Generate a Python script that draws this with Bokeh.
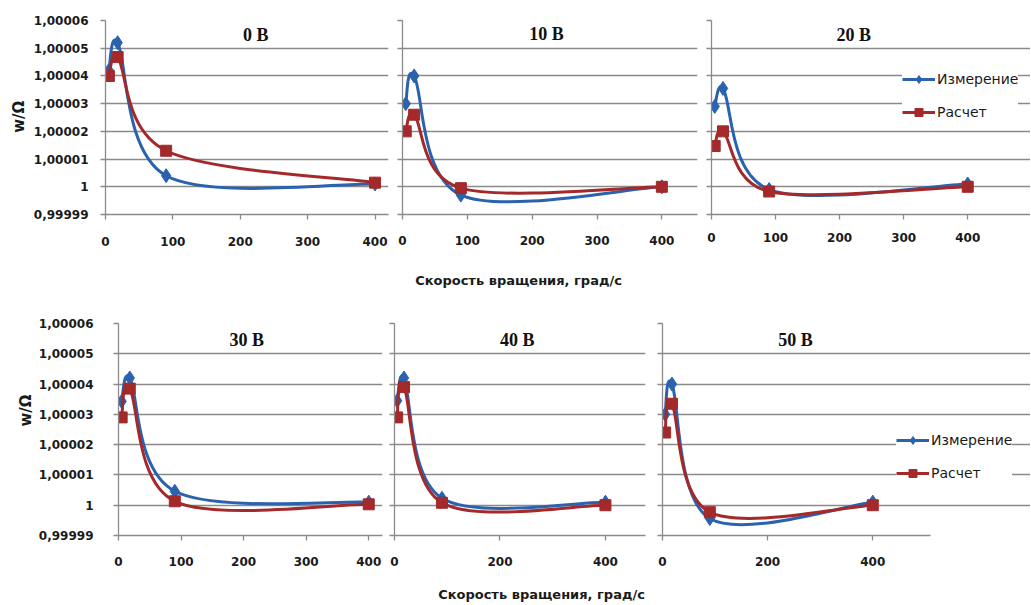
import math
from bokeh.plotting import figure
from bokeh.models import (Range1d, FixedTicker, CustomJSTickFormatter, Label,
                          Legend, LegendItem, ColumnDataSource)
from bokeh.layouts import row, column
from bokeh.embed import file_html
from bokeh.resources import INLINE

# ---------------- data ----------------
speed = [5, 18, 90, 400]
panel_titles = ["0 В", "10 В", "20 В", "30 В", "40 В", "50 В"]
series_names = ["Измерение", "Расчет"]

meas_0 = [1.0000420, 1.0000520, 1.0000040, 1.0000010]
calc_0 = [1.0000400, 1.0000468, 1.0000130, 1.0000015]
meas_10 = [1.0000300, 1.0000400, 0.9999970, 1.0000000]
calc_10 = [1.0000200, 1.0000260, 0.9999995, 1.0000000]
meas_20 = [1.0000290, 1.0000355, 0.9999990, 1.0000010]
calc_20 = [1.0000147, 1.0000200, 0.9999983, 1.0000000]
meas_30 = [1.0000343, 1.0000420, 1.0000046, 1.0000010]
calc_30 = [1.0000290, 1.0000385, 1.0000013, 1.0000003]
meas_40 = [1.0000345, 1.0000420, 1.0000023, 1.0000010]
calc_40 = [1.0000290, 1.0000390, 1.0000008, 1.0000000]
meas_50 = [1.0000300, 1.0000400, 0.9999956, 1.0000010]
calc_50 = [1.0000240, 1.0000335, 0.9999977, 1.0000000]

y_ticks = [0.99999, 1.0, 1.00001, 1.00002, 1.00003, 1.00004, 1.00005, 1.00006]
y_tick_labels = ["0,99999", "1", "1,00001", "1,00002", "1,00003", "1,00004",
                 "1,00005", "1,00006"]
x_ticks_a = [0, 100, 200, 300, 400, 500]
x_ticks_b = [0, 200, 400]
x_title = "Скорость вращения, град/с"
y_title = "w/Ω"

# ---------------- style ----------------
BLUE = "#2a62ae"
RED = "#a3292a"
GRID = "#8a8a8a"
TXT = "#1a1a1a"


def bezier_cols(xs, ys, kx, ky):
    """Excel-style smoothed-line control points, computed from the data."""
    P = [(x * kx, (y - 1.0) * ky) for x, y in zip(xs, ys)]
    n = len(P)

    def dist(a, b):
        return math.hypot(b[0] - a[0], b[1] - a[1])

    cols = {k: [] for k in ["x0", "y0", "x1", "y1", "cx0", "cy0", "cx1", "cy1"]}
    for i in range(n - 1):
        p0 = P[i - 1] if i > 0 else P[i]
        p1, p2 = P[i], P[i + 1]
        p3 = P[i + 2] if i + 2 < n else P[i + 1]
        d02, d12, d13 = dist(p0, p2), dist(p1, p2), dist(p1, p3)
        f1 = 1 / 6 if d02 / 6 < d12 / 2 else d12 / (2 * d02)
        f2 = 1 / 6 if d13 / 6 < d12 / 2 else d12 / (2 * d13)
        c0 = (p1[0] + (p2[0] - p0[0]) * f1, p1[1] + (p2[1] - p0[1]) * f1)
        c1 = (p2[0] - (p3[0] - p1[0]) * f2, p2[1] - (p3[1] - p1[1]) * f2)
        cols["x0"].append(xs[i]); cols["y0"].append(ys[i])
        cols["x1"].append(xs[i + 1]); cols["y1"].append(ys[i + 1])
        cols["cx0"].append(c0[0] / kx); cols["cy0"].append(1.0 + c0[1] / ky)
        cols["cx1"].append(c1[0] / kx); cols["cy1"].append(1.0 + c1[1] / ky)
    return cols


def make_panel(meas, calc, title, title_xy, w, h, borders, xmax, xticks,
               show_ylabels, y_standoff, x_standoff, data_end=None):
    bl, br, bt, bb = borders
    p = figure(width=w, height=h, output_backend="svg", toolbar_location=None,
               title=None, x_range=Range1d(0, xmax),
               y_range=Range1d(0.99999, 1.00006))
    p.min_border_left, p.min_border_right = bl, br
    p.min_border_top, p.min_border_bottom = bt, bb
    p.outline_line_color = None
    p.background_fill_color = "white"
    p.border_fill_color = "white"

    p.xaxis.ticker = FixedTicker(ticks=xticks)
    p.yaxis.ticker = FixedTicker(ticks=y_ticks)
    p.ygrid.ticker = FixedTicker(ticks=y_ticks)
    p.xgrid.visible = False
    p.ygrid.grid_line_color = GRID
    p.ygrid.grid_line_width = 1.3
    if data_end is not None:
        p.ygrid.bounds = (0, data_end)
        p.xaxis.bounds = (0, data_end)

    for ax in (p.xaxis[0], p.yaxis[0]):
        ax.axis_line_color = GRID
        ax.axis_line_width = 1.3
        ax.major_tick_line_color = GRID
        ax.major_tick_line_width = 1.3
        ax.major_tick_in = 0
        ax.major_tick_out = 5
        ax.minor_tick_line_color = None
        ax.major_label_text_font = "DejaVu Sans"
        ax.major_label_text_font_style = "bold"
        ax.major_label_text_font_size = "12px"
        ax.major_label_text_color = TXT
    p.xaxis.major_label_standoff = x_standoff

    if show_ylabels:
        p.yaxis.formatter = CustomJSTickFormatter(
            args=dict(vals=y_ticks, labs=y_tick_labels),
            code="""
            let best = 0, bd = Infinity;
            for (let i = 0; i < vals.length; i++) {
              const dd = Math.abs(vals[i] - tick);
              if (dd < bd) { bd = dd; best = i; }
            }
            return labs[best];
            """)
        p.yaxis.major_label_standoff = y_standoff
    else:
        p.yaxis.formatter = CustomJSTickFormatter(code="return '';")
        p.yaxis.major_label_standoff = 0

    # drawing scale (px per unit) of this panel, for the smoothing
    fw = w - bl - br
    fh = h - bt - bb
    kx = fw / xmax
    ky = fh / 0.00007

    bm = bezier_cols(speed, meas, kx, ky)
    bc = bezier_cols(speed, calc, kx, ky)
    rbl = p.bezier(x0="x0", y0="y0", x1="x1", y1="y1", cx0="cx0", cy0="cy0",
                   cx1="cx1", cy1="cy1", source=ColumnDataSource(bm),
                   line_color=BLUE, line_width=3)
    rbp = p.scatter(speed, meas, marker="diamond", size=14, fill_color=BLUE,
                    line_color=BLUE)
    rrl = p.bezier(x0="x0", y0="y0", x1="x1", y1="y1", cx0="cx0", cy0="cy0",
                   cx1="cx1", cy1="cy1", source=ColumnDataSource(bc),
                   line_color=RED, line_width=3)
    rrp = p.scatter(speed, calc, marker="square", size=11, fill_color=RED,
                    line_color=RED)

    p.add_layout(Label(x=title_xy[0], y=title_xy[1], text=title,
                       text_font="Liberation Serif", text_font_style="bold",
                       text_font_size="18px", text_color="#111111",
                       text_align="center", text_baseline="middle",
                       background_fill_color="white"))
    return p, [rbl, rbp], [rrl, rrp]


def add_legend(p, rm, rc, loc):
    leg = Legend(items=[LegendItem(label=series_names[0], renderers=rm),
                        LegendItem(label=series_names[1], renderers=rc)],
                 location=loc, margin=0, padding=6, spacing=13,
                 glyph_width=33, glyph_height=20, label_height=20,
                 label_standoff=2, label_text_font="DejaVu Sans",
                 label_text_font_size="14px", label_text_color=TXT,
                 background_fill_color="white", background_fill_alpha=1.0,
                 border_line_color=None)
    p.add_layout(leg)


def text_fig(w, h, x, y, text, angle=0.0, size="13px"):
    f = figure(width=w, height=h, output_backend="svg", toolbar_location=None,
               title=None, x_axis_type=None, y_axis_type=None,
               x_range=Range1d(0, w), y_range=Range1d(0, h))
    f.min_border_left = f.min_border_right = 0
    f.min_border_top = f.min_border_bottom = 0
    f.outline_line_color = None
    f.background_fill_color = "white"
    f.border_fill_color = "white"
    f.grid.visible = False
    f.add_layout(Label(x=x, y=y, text=text, angle=angle,
                       text_font="DejaVu Sans", text_font_style="bold",
                       text_font_size=size, text_color=TXT,
                       text_align="center", text_baseline="middle"))
    return f


# ---------------- top block ----------------
TOP_H = 252
yt1 = text_fig(30, TOP_H, 18, TOP_H - 125, y_title, angle=math.pi / 2, size="15px")
p1, m1, c1 = make_panel(meas_0, calc_0, panel_titles[0], (223, 1.0000546),
                        365, TOP_H, (70, 7, 20, 38), 420, x_ticks_a, True, 12, 17)
p2, m2, c2 = make_panel(meas_10, calc_10, panel_titles[1], (222, 1.0000550),
                        309, TOP_H, (7, 7, 18, 37), 455, x_ticks_a, False, 0, 16)
p3, m3, c3 = make_panel(meas_20, calc_20, panel_titles[2], (222, 1.0000549),
                        326, TOP_H, (7, 0, 13, 34), 498, x_ticks_a, False, 0, 13)
add_legend(p3, m3, c3, (191, 92))
xt1 = text_fig(1030, 38, 518, 10, x_title)

# ---------------- bottom block ----------------
BOT_H = 285
yt2 = text_fig(35, BOT_H, 25, BOT_H - 117, y_title, angle=math.pi / 2, size="15px")
p4, m4, c4 = make_panel(meas_30, calc_30, panel_titles[3], (205, 1.0000544),
                        353, BOT_H, (75, 6, 33, 40), 422, x_ticks_a, True, 20, 16)
p5, m5, c5 = make_panel(meas_40, calc_40, panel_titles[4], (233, 1.0000547),
                        267, BOT_H, (6, 10, 33, 40), 476, x_ticks_b, False, 0, 16)
p6, m6, c6 = make_panel(meas_50, calc_50, panel_titles[5], (253, 1.0000544),
                        375, BOT_H, (7, 0, 33, 40), 700, x_ticks_b, False, 0, 16,
                        data_end=510)
add_legend(p6, m6, c6, (234, 52))
xt2 = text_fig(1030, 29, 541, 10, x_title)

layout = column(row(yt1, p1, p2, p3, spacing=0), xt1,
                row(yt2, p4, p5, p6, spacing=0), xt2, spacing=0)

with open("out.html", "w") as f:
    f.write(file_html(layout, INLINE))
